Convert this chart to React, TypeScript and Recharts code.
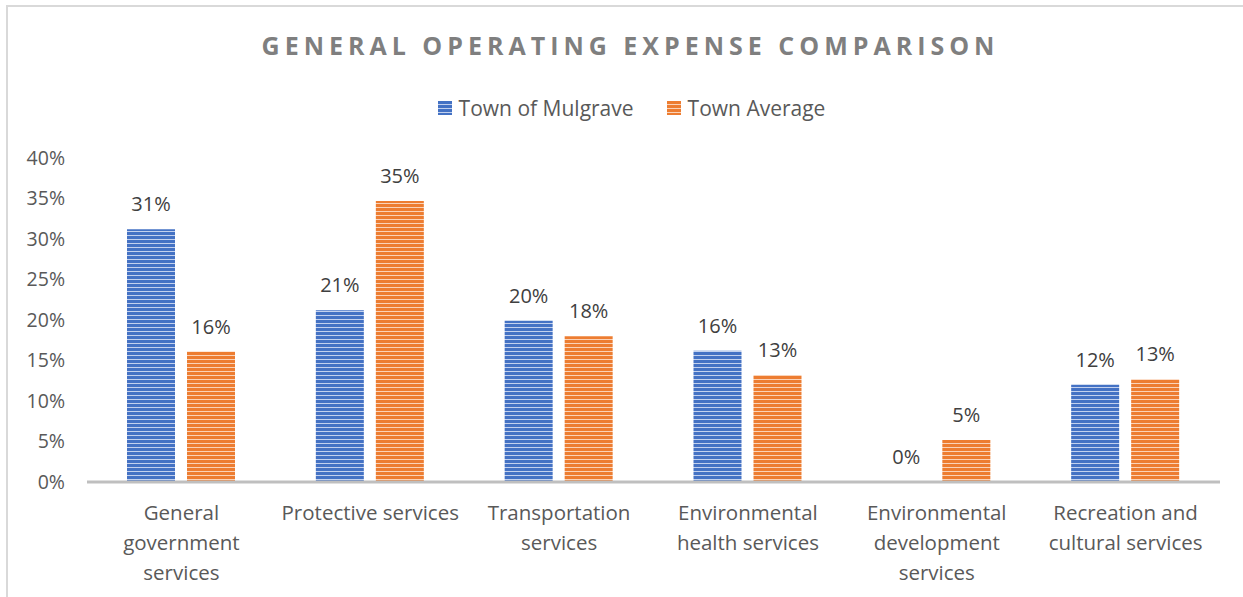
import React from 'react';
import { BarChart, Bar, XAxis, YAxis, LabelList } from 'recharts';

const categories = [
  'General\ngovernment\nservices',
  'Protective services',
  'Transportation\nservices',
  'Environmental\nhealth services',
  'Environmental\ndevelopment\nservices',
  'Recreation and\ncultural services',
];
const mulgrave = [31.2, 21.2, 19.9, 16.2, 0, 12.0];
const townAverage = [16.1, 34.7, 18.0, 13.2, 5.2, 12.7];
const yTicks = [0, 5, 10, 15, 20, 25, 30, 35, 40];

const seriesNames = ['Town of Mulgrave', 'Town Average'];

const data = categories.map((name, i) => ({
  name,
  mulgrave: mulgrave[i],
  average: townAverage[i],
}));

const FONT = '"Open Sans", "Liberation Sans", sans-serif';
const TEXT = '#595959';

const CategoryTick = (props: any) => {
  const { x, y, payload } = props;
  const lines = String(payload.value).split('\n');
  return (
    <text x={x} y={y} textAnchor="middle" fill={TEXT} fontSize={20.5} fontFamily={FONT}>
      {lines.map((line, i) => (
        <tspan key={i} x={x} dy={i === 0 ? 36 : 30}>
          {line}
        </tspan>
      ))}
    </text>
  );
};

// draws the value label above a bar, also when the bar has zero height
const ValueLabel = (props: any) => {
  const { x, y, width, value } = props;
  if (value == null) return null;
  return (
    <text
      x={Number(x) + Number(width) / 2}
      y={Number(y) - 18}
      textAnchor="middle"
      fill="#404040"
      fontSize={20}
      fontFamily={FONT}
    >
      {`${Math.round(Number(value))}%`}
    </text>
  );
};

const LegendBox = () => (
  <div
    style={{
      position: 'absolute',
      left: 0,
      top: 94,
      width: 1243,
      paddingLeft: 20,
      boxSizing: 'border-box',
      display: 'flex',
      justifyContent: 'center',
      alignItems: 'center',
      fontFamily: FONT,
      fontSize: 21,
      color: TEXT,
      lineHeight: '28px',
    }}
  >
    <svg width={14} height={14} style={{ marginRight: 7 }}>
      <rect width={14} height={14} fill="url(#stripeBlue)" />
    </svg>
    <span style={{ marginRight: 33 }}>{seriesNames[0]}</span>
    <svg width={14} height={14} style={{ marginRight: 7 }}>
      <rect width={14} height={14} fill="url(#stripeOrange)" />
    </svg>
    <span>{seriesNames[1]}</span>
  </div>
);

export default function App() {
  return (
    <div style={{ position: 'absolute', left: 0, top: 0, width: 1243, height: 597, background: '#fff' }}>
      <div
        style={{
          position: 'absolute',
          left: 6,
          top: 5,
          right: 0,
          bottom: 0,
          borderLeft: '2px solid #d9d9d9',
          borderTop: '2px solid #d9d9d9',
        }}
      />
      <div
        style={{
          position: 'absolute',
          left: 0,
          top: 28,
          width: 1243,
          paddingLeft: 18,
          boxSizing: 'border-box',
          textAlign: 'center',
          fontFamily: FONT,
          fontWeight: 700,
          fontSize: 25,
          lineHeight: '34px',
          letterSpacing: 5,
          color: '#7f7f7f',
        }}
      >
        GENERAL OPERATING EXPENSE COMPARISON
      </div>
      <LegendBox />
      <div style={{ position: 'absolute', left: 0, top: 0 }}>
        <BarChart
          width={1243}
          height={597}
          data={data}
          margin={{ top: 158, right: 23, bottom: 0, left: 0 }}
          barGap={12}
          barSize={48}
        >
          <defs>
            <pattern id="stripeBlue" width={8} height={4} patternUnits="userSpaceOnUse">
              <rect width={8} height={4} fill="#4472C4" />
              <rect y={3} width={8} height={1} fill="#c3d1ee" />
            </pattern>
            <pattern id="stripeOrange" width={8} height={4} patternUnits="userSpaceOnUse">
              <rect width={8} height={4} fill="#ED7D31" />
              <rect y={3} width={8} height={1} fill="#fbd3b8" />
            </pattern>
          </defs>
          <XAxis
            dataKey="name"
            interval={0}
            height={115}
            tickLine={false}
            tickSize={0}
            tick={<CategoryTick />}
            axisLine={{ stroke: '#bfbfbf', strokeWidth: 3 }}
          />
          <YAxis
            domain={[0, 40]}
            ticks={yTicks}
            width={87}
            axisLine={false}
            tickLine={false}
            tickSize={0}
            tickMargin={22}
            tickFormatter={(v: number) => `${v}%`}
            tick={{ fill: TEXT, fontSize: 19.5, fontFamily: FONT }}
          />
          <Bar
            dataKey="mulgrave"
            name={seriesNames[0]}
            fill="url(#stripeBlue)"
            minPointSize={(v: number) => (v === 0 ? 0.5 : 0)}
            isAnimationActive={false}
          >
            <LabelList dataKey="mulgrave" content={<ValueLabel />} />
          </Bar>
          <Bar dataKey="average" name={seriesNames[1]} fill="url(#stripeOrange)" isAnimationActive={false}>
            <LabelList dataKey="average" content={<ValueLabel />} />
          </Bar>
        </BarChart>
      </div>
    </div>
  );
}
